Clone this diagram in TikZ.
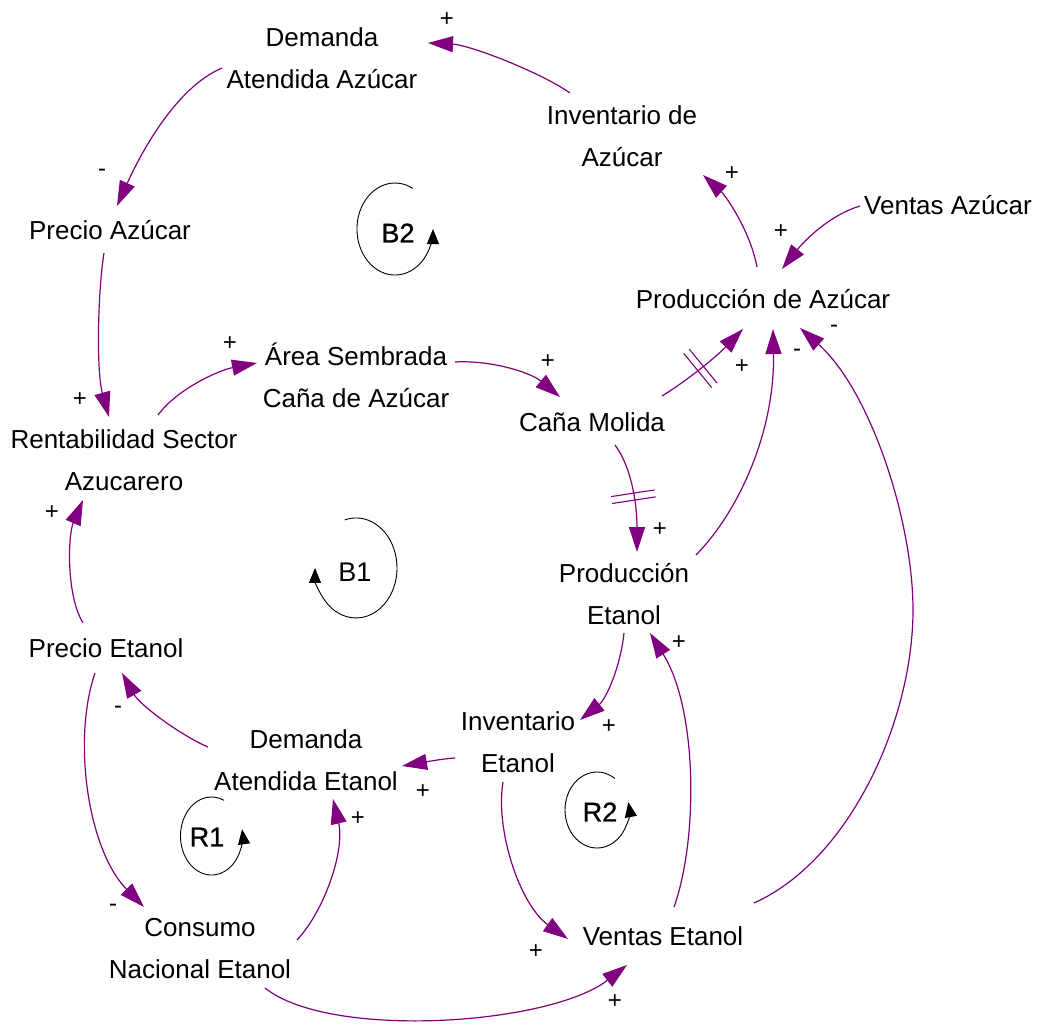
\documentclass[tikz,border=0pt]{standalone}
\usepackage{fontspec}
\setmainfont{Liberation Sans}
\newfontfamily\loopfont[FakeBold=1]{Liberation Sans}
\usetikzlibrary{arrows.meta,decorations.markings}
\definecolor{vpurple}{RGB}{128,0,128}
\tikzset{
  var/.style={font=\fontsize{26}{42}\selectfont, align=center, inner sep=0pt},
  sgn/.style={font=\fontsize{24}{24}\selectfont, inner sep=0pt},
  looplbl/.style={font=\fontsize{27}{27}\selectfont, inner sep=0pt},
  boldlbl/.style={font=\loopfont\fontsize{27}{27}\selectfont, inner sep=0pt},
  link/.style={draw=vpurple, line width=1.2pt, -{Triangle[length=25pt,width=16pt]}},
  loopline/.style={draw=black, line width=0.9pt, -{Triangle[length=15pt,width=12pt]}},
  delaymark/.style={postaction={decorate}, decoration={markings, mark=at position #1 with {\draw[-, vpurple, line width=1.1pt] (-3.5pt,-22pt) -- (-3.5pt,22pt) (3.5pt,-22pt) -- (3.5pt,22pt);}}}
}
\begin{document}
\begin{tikzpicture}[x=1pt,y=-1pt]
\fill[white] (0,0) rectangle (1037,1025);
\useasboundingbox (0,0) rectangle (1037,1025);

% variables
\node[var] (DAA) at (322,58) {Demanda\\Atendida Azúcar};
\node[var] (IA) at (622,136) {Inventario de\\Azúcar};
\node[var] (VA) at (948,205) {Ventas Azúcar};
\node[var] (PA) at (763,299) {Producción de Azúcar};
\node[var] (PAz) at (110,230) {Precio Azúcar};
\node[var] (Area) at (356,375) {Área Sembrada\\Caña de Azúcar};
\node[var] (CM) at (592,422) {Caña Molida};
\node[var] (RSA) at (124,460) {Rentabilidad Sector\\Azucarero};
\node[var] (PE) at (624,594) {Producción\\Etanol};
\node[var] (PrE) at (106,648) {Precio Etanol};
\node[var] (IE) at (518,742) {Inventario\\Etanol};
\node[var] (DAE) at (306,760) {Demanda\\Atendida Etanol};
\node[var] (CNE) at (200,949) {Consumo\\Nacional Etanol};
\node[var] (VE) at (663,936) {Ventas Etanol};

% loop labels
\node[boldlbl] (B2) at (398,233) {B2};
\node[looplbl] (B1) at (355,572) {B1};
\node[boldlbl] (R1) at (207,837) {R1};
\node[boldlbl] (R2) at (600,812) {R2};

% loop symbols
\draw[loopline] ([shift={(14.8,-44.6)}]B2.center) arc[start angle=-62, end angle=-360, x radius=38, y radius=46];
\draw[loopline] ([shift={(-10.3,-52.1)}]B1.center) arc[start angle=-106, end angle=180, x radius=41, y radius=50];
\draw[loopline] ([shift={(17.1,-36.6)}]R1.center) arc[start angle=-66, end angle=-370, x radius=31, y radius=39];
\draw[loopline] ([shift={(14.9,-33.5)}]R2.center) arc[start angle=-56, end angle=-372, x radius=32, y radius=38];

% links
\draw[link] ([shift={(-52,-43)}]IA.center) .. controls (540,72) and (470,45) .. ([shift={(106,-15)}]DAA.center);
\draw[link] ([shift={(-100,10)}]DAA.center) .. controls (175,88) and (140,155) .. ([shift={(7,-24)}]PAz.center);
\draw[link] ([shift={(-6,23)}]PAz.center) .. controls (98,290) and (96,370) .. ([shift={(-15,-43)}]RSA.center);
\draw[link] ([shift={(34,-45)}]RSA.center) .. controls (178,388) and (220,370) .. ([shift={(-99,-12)}]Area.center);
\draw[link] ([shift={(99,-13)}]Area.center) .. controls (490,360) and (530,372) .. ([shift={(-32,-25)}]CM.center);
\draw[link, delaymark=0.45] ([shift={(70,-26)}]CM.center) .. controls (685,382) and (715,358) .. ([shift={(-20,30)}]PA.center);
\draw[link] ([shift={(72,-39)}]PE.center) .. controls (740,510) and (775,430) .. ([shift={(10,30)}]PA.center);
\draw[link] ([shift={(91,-33)}]VE.center) .. controls (850,860) and (913,720) .. (913,610) .. controls (913,520) and (870,390) .. ([shift={(37,29)}]PA.center);
\draw[link] ([shift={(0,39)}]PE.center) .. controls (620,670) and (605,700) .. ([shift={(62,-22)}]IE.center);
\draw[link] ([shift={(-63,16)}]IE.center) .. controls (440,759) and (420,763) .. ([shift={(96,6)}]DAE.center);
\draw[link] ([shift={(97,-9)}]CNE.center) .. controls (325,910) and (345,850) .. ([shift={(27,39)}]DAE.center);
\draw[link] ([shift={(-98,-13)}]DAE.center) .. controls (180,735) and (140,705) .. ([shift={(16,25)}]PrE.center);
\draw[link] ([shift={(-11,25)}]PrE.center) .. controls (72,740) and (88,850) .. ([shift={(-56,-42)}]CNE.center);
\draw[link] ([shift={(-23,-25)}]PrE.center) .. controls (66,595) and (68,535) .. ([shift={(-41,40)}]RSA.center);
\draw[link] ([shift={(65,39)}]CNE.center) .. controls (330,1040) and (550,1025) .. ([shift={(-36,29)}]VE.center);
\draw[link] ([shift={(-15,40)}]IE.center) .. controls (495,830) and (520,905) .. ([shift={(-95,3)}]VE.center);
\draw[link] ([shift={(11,-29)}]VE.center) .. controls (698,840) and (698,710) .. ([shift={(26,39)}]PE.center);
\draw[link, delaymark=0.5] ([shift={(23,23)}]CM.center) .. controls (630,465) and (637,500) .. ([shift={(13,-42)}]PE.center);
\draw[link] ([shift={(-6,-32)}]PA.center) .. controls (750,230) and (725,195) .. ([shift={(81,39)}]IA.center);
\draw[link] ([shift={(-88,1)}]VA.center) .. controls (830,215) and (805,240) .. ([shift={(19,-30)}]PA.center);

% polarity signs
\node[sgn] (s1) at (447,20) {+};
\node[sgn] (s2) at (102,173) {-};
\node[sgn] (s3) at (80,400) {+};
\node[sgn] (s4) at (52,513) {+};
\node[sgn] (s5) at (230,344) {+};
\node[sgn] (s6) at (548,362) {+};
\node[sgn] (s7) at (742,367) {+};
\node[sgn] (s8) at (797,353) {-};
\node[sgn] (s9) at (834,329) {-};
\node[sgn] (s10) at (781,232) {+};
\node[sgn] (s11) at (732,174) {+};
\node[sgn] (s12) at (660,530) {+};
\node[sgn] (s13) at (679,643) {+};
\node[sgn] (s14) at (609,727) {+};
\node[sgn] (s15) at (423,792) {+};
\node[sgn] (s16) at (358,819) {+};
\node[sgn] (s17) at (118,710) {-};
\node[sgn] (s18) at (113,908) {-};
\node[sgn] (s19) at (536,952) {+};
\node[sgn] (s20) at (615,1002) {+};
\end{tikzpicture}
\end{document}
